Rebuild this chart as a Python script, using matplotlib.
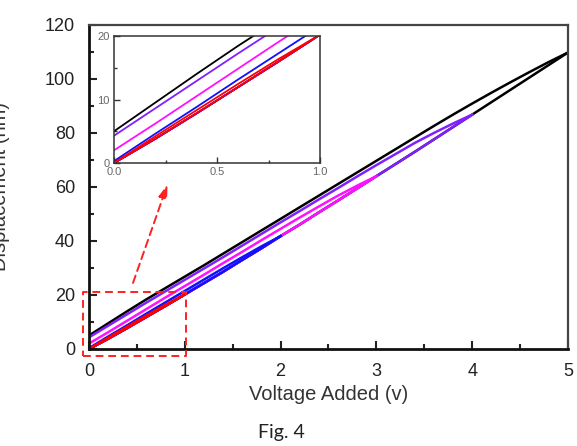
import numpy as np
import matplotlib
matplotlib.use("Agg")
import matplotlib.pyplot as plt
from matplotlib.ticker import MultipleLocator

plt.rcParams['font.family'] = ['Liberation Sans', 'DejaVu Sans']

# voltage grid (V), 0.2 V steps
voltage = [0.0, 0.2, 0.4, 0.6, 0.8, 1.0, 1.2, 1.4, 1.6, 1.8, 2.0, 2.2, 2.4,
           2.6, 2.8, 3.0, 3.2, 3.4, 3.6, 3.8, 4.0, 4.2, 4.4, 4.6, 4.8, 5.0]

# ascending branch (common to all loops), nm
up_disp = [0.0, 3.8, 7.8, 11.9, 16.0, 20.2, 24.4, 28.6, 33.0, 37.3, 41.8,
           46.1, 50.6, 55.0, 59.5, 64.0, 68.5, 73.0, 77.6, 82.2, 86.8,
           91.4, 96.0, 100.6, 105.2, 109.8]

# descending branches, nm (from 0 V up to each loop's max voltage)
down_5v = [5.0, 9.5, 14.0, 18.4, 22.6, 26.8, 31.0, 35.3, 39.6, 43.9, 48.2,
           52.5, 56.8, 61.1, 65.4, 69.7, 74.0, 78.3, 82.6, 86.8, 90.9,
           94.9, 98.8, 102.6, 106.3, 109.8]
down_4v = [4.3, 8.6, 12.9, 17.2, 21.4, 25.6, 29.8, 34.0, 38.3, 42.6, 46.9,
           51.1, 55.4, 59.6, 63.9, 68.1, 72.2, 76.3, 80.0, 83.5, 86.8]
down_3v = [2.0, 6.2, 10.5, 14.8, 19.1, 23.3, 27.5, 31.8, 36.0, 40.3, 44.5,
           48.7, 52.8, 56.8, 60.5, 64.0]
down_2v = [0.3, 4.6, 8.8, 13.1, 17.3, 21.5, 25.7, 29.9, 34.0, 38.0, 41.8]
down_1v = [0.0, 4.2, 8.3, 12.4, 16.4, 20.2]

loops = [(down_5v, '#000000'), (down_4v, '#8020ff'), (down_3v, '#ff10ff'),
         (down_2v, '#1010ff'), (down_1v, '#ff0000')]


def draw_loops(ax, lw):
    for down, color in loops:
        n = len(down)
        ax.plot(voltage[:n], up_disp[:n], color=color, lw=lw)
        ax.plot(voltage[:n], down, color=color, lw=lw)


fig = plt.figure(figsize=(5.77, 4.46), dpi=100)
ax = fig.add_axes([0.1542, 0.2175, 0.8302, 0.7265])
draw_loops(ax, 1.8)

ax.set_xlim(0, 5)
ax.set_ylim(0, 120)
ax.xaxis.set_major_locator(MultipleLocator(1))
ax.xaxis.set_minor_locator(MultipleLocator(0.5))
ax.yaxis.set_major_locator(MultipleLocator(20))
ax.yaxis.set_minor_locator(MultipleLocator(10))
ax.tick_params(which='both', direction='in', top=False, right=False,
               width=1.5, labelsize=13, colors='#222222', pad=10)
ax.tick_params(which='major', length=6)
ax.tick_params(which='minor', length=3.5)
for s in ['left', 'bottom']:
    ax.spines[s].set_linewidth(2)
    ax.spines[s].set_color('#111111')
for s in ['top', 'right']:
    ax.spines[s].set_linewidth(1.6)
    ax.spines[s].set_color('#444444')

ax.set_xlabel('Voltage Added (v)', fontsize=14.5, color='#333333', labelpad=4)
ax.set_ylabel('Displacement (nm)', fontsize=14.5, color='#333333')
ax.yaxis.set_label_coords(-0.165, 0.5)

# dashed zoom box and arrow
ax.plot([-0.066, 1.01, 1.01, -0.066, -0.066], [-2.5, -2.5, 21.2, 21.2, -2.5],
        color='#ff2020', lw=1.4, ls=(0, (4, 2.5)), clip_on=False, zorder=5)
ax.annotate('', xy=(0.83, 62), xytext=(0.45, 23.5),
            arrowprops=dict(arrowstyle='-|>,head_width=0.25,head_length=0.8',
                            color='#ff2020', lw=1.4, ls=(0, (4, 2.5))))

# inset
ins = fig.add_axes([0.1976, 0.6345, 0.357, 0.2848])
draw_loops(ins, 1.3)
ins.set_xlim(0, 1)
ins.set_ylim(0, 20)
ins.xaxis.set_major_locator(MultipleLocator(0.5))
ins.xaxis.set_minor_locator(MultipleLocator(0.25))
ins.yaxis.set_major_locator(MultipleLocator(10))
ins.yaxis.set_minor_locator(MultipleLocator(5))
ins.xaxis.set_major_formatter(plt.FormatStrFormatter('%.1f'))
ins.tick_params(which='both', direction='in', top=False, right=False,
                labelsize=8, labelcolor='#666666', color='#333333',
                width=1, pad=3)
ins.tick_params(which='major', length=4)
ins.tick_params(which='minor', length=2.5)
for s in ins.spines.values():
    s.set_linewidth(1.1)
    s.set_color('#333333')

fig.text(0.487, 0.018, 'Fig. 4', fontsize=14, color='#222222',
         family=['Lato', 'DejaVu Sans'], ha='center')

fig.savefig('out.png', dpi=100)
